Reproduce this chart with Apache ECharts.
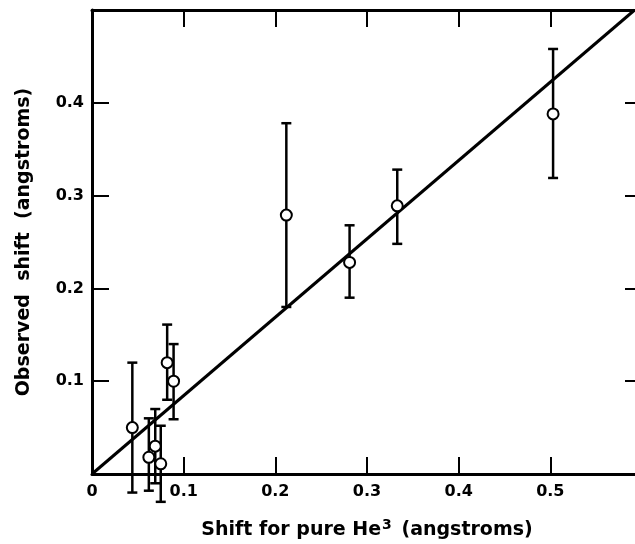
<!DOCTYPE html>
<html>
<head>
<meta charset="utf-8">
<script src="https://cdn.jsdelivr.net/npm/echarts@6/dist/echarts.min.js"></script>
<style>
  html, body { margin: 0; padding: 0; background: #fff; }
  #chart { width: 635px; height: 544px; }
</style>
</head>
<body>
<div id="chart"></div>
<script>
// shift for pure He3 vs observed shift, with error bars
const xs = [0.044, 0.062, 0.069, 0.075, 0.082, 0.089, 0.212, 0.281, 0.333, 0.503]
const ys = [0.05, 0.018, 0.03, 0.011, 0.12, 0.10, 0.279, 0.228, 0.289, 0.388]
const yLow = [-0.02, -0.018, -0.01, -0.03, 0.08, 0.059, 0.18, 0.19, 0.248, 0.319]
const yHigh = [0.12, 0.06, 0.07, 0.052, 0.161, 0.14, 0.378, 0.268, 0.328, 0.458]
// fitted line end points
const fitLine = [[0, 0], [0.592, 0.5]]
const xTickLabels = { 0: '0', 0.1: '0.1', 0.2: '0.2', 0.3: '0.3', 0.4: '0.4', 0.5: '0.5' }
const yTickLabels = { 0.1: '0.1', 0.2: '0.2', 0.3: '0.3', 0.4: '0.4' }

const font = 'DejaVu Sans'
const chart = echarts.init(document.getElementById('chart'))

const points = xs.map((x, i) => [x, ys[i]])
const bars = xs.map((x, i) => [x, yLow[i], yHigh[i]])

const axisLine = { show: true, onZero: false, lineStyle: { color: '#000', width: 3 } }
const axisTick = { show: true, inside: true, length: 17, lineStyle: { color: '#000', width: 2 } }

const option = {
  animation: false,
  // right edge of the frame sits just past the window, as in the scan
  grid: { left: 92, top: 10, width: 550, height: 464, containLabel: false, outerBoundsMode: 'none' },
  xAxis: [
    {
      type: 'value', min: 0, max: 0.6, interval: 0.1, position: 'bottom',
      axisLine: axisLine, axisTick: axisTick, splitLine: { show: false },
      axisLabel: {
        margin: 10, color: '#000', fontFamily: font, fontWeight: 'bold', fontSize: 16,
        formatter: v => xTickLabels[Math.round(v * 10) / 10] || ''
      },
      name: 'Shift for pure He{sup|3} (angstroms)',
      nameLocation: 'middle', nameGap: 44,
      nameTextStyle: {
        color: '#000', fontFamily: font, fontWeight: 'bold', fontSize: 19,
        rich: { sup: { fontSize: 14, fontFamily: font, fontWeight: 'bold', verticalAlign: 'top', padding: [0, 3, 10, 1] } }
      }
    },
    {
      type: 'value', min: 0, max: 0.6, interval: 0.1, position: 'top',
      axisLine: axisLine, axisTick: axisTick, splitLine: { show: false },
      axisLabel: { show: false }
    }
  ],
  yAxis: [
    {
      type: 'value', min: 0, max: 0.5, interval: 0.1, position: 'left',
      axisLine: axisLine, axisTick: axisTick, splitLine: { show: false },
      axisLabel: {
        margin: 8, color: '#000', fontFamily: font, fontWeight: 'bold', fontSize: 16,
        formatter: v => yTickLabels[Math.round(v * 10) / 10] || ''
      },
      name: 'Observed  shift  (angstroms)',
      nameLocation: 'middle', nameGap: 58,
      nameTextStyle: { color: '#000', fontFamily: font, fontWeight: 'bold', fontSize: 19 }
    },
    {
      type: 'value', min: 0, max: 0.5, interval: 0.1, position: 'right',
      axisLine: axisLine, axisTick: axisTick, splitLine: { show: false },
      axisLabel: { show: false }
    }
  ],
  series: [
    {
      type: 'line',
      data: fitLine,
      symbol: 'none',
      lineStyle: { color: '#000', width: 3 },
      z: 2
    },
    {
      type: 'custom',
      data: bars,
      clip: false,
      z: 3,
      renderItem(params, api) {
        const x = api.value(0)
        const lo = api.coord([x, api.value(1)])
        const hi = api.coord([x, api.value(2)])
        const cap = 5
        const style = { stroke: '#000', lineWidth: 2.5 }
        return {
          type: 'group',
          children: [
            { type: 'line', shape: { x1: lo[0], y1: lo[1], x2: hi[0], y2: hi[1] }, style },
            { type: 'line', shape: { x1: lo[0] - cap, y1: lo[1], x2: lo[0] + cap, y2: lo[1] }, style },
            { type: 'line', shape: { x1: hi[0] - cap, y1: hi[1], x2: hi[0] + cap, y2: hi[1] }, style }
          ]
        }
      }
    },
    {
      type: 'scatter',
      data: points,
      symbol: 'circle',
      symbolSize: 11,
      itemStyle: { color: '#fff', borderColor: '#000', borderWidth: 2, opacity: 1 },
      z: 4
    }
  ]
}
chart.setOption(option)
</script>
</body>
</html>
